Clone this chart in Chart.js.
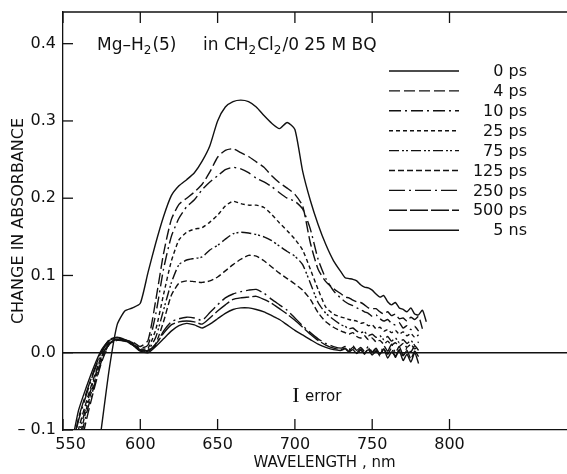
<!DOCTYPE html>
<html>
<head>
<meta charset="utf-8">
<script src="https://cdn.jsdelivr.net/npm/chart.js@4.4.1/dist/chart.umd.min.js"></script>
<style>
html,body{margin:0;padding:0;background:#ffffff;}
canvas{display:block;}
</style>
</head>
<body>
<canvas id="chart" width="567" height="474"></canvas>
<script>
// ---------------- DATA ----------------
const WAVELENGTHS = [555,560,565,570,575,580,585,590,595,600,605,610,615,620,625,630,635,640,645,650,655,660,665,670,675,680,685,690,695,700,705,710,715,720,725,730,732.5,735,737.5,740,742.5,745,747.5,750,752.5,755,757.5,760,762.5,765,767.5,770,772.5,775,777.5,780,782.5,785];

const ABS_0PS = [null,null,null,-0.17,-0.095,-0.02,0.036,0.054,0.058,0.064,0.104,0.142,0.176,0.203,0.216,0.224,0.233,0.248,0.268,0.300,0.318,0.325,0.327,0.325,0.318,0.307,0.297,0.290,0.298,0.289,0.235,0.197,0.166,0.140,0.119,0.104,0.097,0.096,0.095,0.093,0.088,0.085,0.084,0.081,0.076,0.072,0.074,0.066,0.062,0.065,0.058,0.056,0.053,0.058,0.050,0.049,0.055,0.040];
const ABS_4PS = [-0.20,-0.135,-0.088,-0.048,-0.012,0.011,0.018,0.016,0.014,0.008,0.016,0.068,0.128,0.172,0.192,0.200,0.208,0.218,0.234,0.253,0.262,0.264,0.259,0.254,0.247,0.240,0.229,0.220,0.213,0.205,0.190,0.142,0.108,0.092,0.083,0.076,0.072,0.071,0.068,0.066,0.065,0.062,0.058,0.057,0.057,0.053,0.050,0.053,0.048,0.050,0.044,0.045,0.041,0.046,0.043,0.047,0.031,null];
const ABS_10PS = [-0.19,-0.125,-0.080,-0.044,-0.010,0.012,0.017,0.017,0.013,0.006,0.010,0.050,0.108,0.150,0.174,0.189,0.198,0.211,0.221,0.229,0.237,0.240,0.238,0.233,0.226,0.221,0.215,0.207,0.200,0.196,0.186,0.160,0.121,0.096,0.080,0.070,0.066,0.063,0.061,0.058,0.056,0.053,0.051,0.047,0.049,0.044,0.041,0.043,0.038,0.036,0.039,0.032,0.035,0.030,0.034,0.028,null,null];
const ABS_25PS = [-0.18,-0.118,-0.074,-0.040,-0.008,0.012,0.016,0.016,0.012,0.005,0.006,0.030,0.075,0.118,0.146,0.156,0.160,0.162,0.169,0.178,0.190,0.196,0.193,0.191,0.191,0.188,0.179,0.168,0.158,0.147,0.133,0.108,0.082,0.059,0.050,0.046,0.045,0.043,0.042,0.041,0.038,0.039,0.035,0.036,0.031,0.033,0.028,0.030,0.026,0.029,0.024,0.027,0.022,0.025,0.020,0.023,null,null];
const ABS_75PS = [-0.17,-0.110,-0.069,-0.035,-0.005,0.013,0.016,0.015,0.011,0.004,0.004,0.020,0.055,0.090,0.114,0.120,0.122,0.124,0.133,0.139,0.147,0.154,0.156,0.155,0.153,0.150,0.145,0.138,0.131,0.125,0.114,0.090,0.065,0.051,0.043,0.036,0.034,0.031,0.032,0.028,0.026,0.027,0.022,0.024,0.020,0.022,0.017,0.021,0.015,0.019,0.013,0.017,0.012,0.016,0.010,0.014,null,null];
const ABS_125PS = [-0.16,-0.100,-0.064,-0.032,-0.004,0.014,0.017,0.015,0.010,0.003,0.002,0.012,0.040,0.074,0.090,0.093,0.092,0.091,0.093,0.098,0.106,0.114,0.121,0.126,0.125,0.119,0.111,0.103,0.096,0.089,0.081,0.069,0.052,0.040,0.033,0.028,0.026,0.024,0.026,0.021,0.019,0.022,0.017,0.019,0.014,0.016,0.011,0.015,0.010,0.013,0.008,0.012,0.007,0.011,0.005,0.009,null,null];
const ABS_250PS = [-0.13,-0.088,-0.055,-0.025,0.000,0.016,0.019,0.016,0.011,0.004,0.003,0.010,0.028,0.040,0.044,0.046,0.045,0.042,0.052,0.062,0.071,0.076,0.079,0.081,0.082,0.077,0.069,0.062,0.055,0.045,0.035,0.026,0.018,0.012,0.008,0.006,0.008,0.004,0.009,0.003,0.007,0.002,0.008,0.001,0.006,-0.002,0.009,0.002,0.011,0.000,0.008,-0.003,0.006,0.001,0.009,0.003,null,null];
const ABS_500PS = [-0.135,-0.085,-0.052,-0.023,0.002,0.017,0.020,0.017,0.012,0.003,0.002,0.011,0.025,0.036,0.040,0.041,0.040,0.037,0.045,0.054,0.062,0.069,0.071,0.072,0.073,0.069,0.064,0.057,0.050,0.042,0.033,0.024,0.016,0.010,0.006,0.004,0.006,0.002,0.007,0.000,0.005,-0.002,0.006,0.000,0.004,-0.004,0.005,-0.002,0.006,-0.006,0.004,-0.004,0.003,-0.008,0.002,-0.005,null,null];
const ABS_5NS = [-0.125,-0.075,-0.045,-0.018,0.004,0.016,0.018,0.016,0.010,0.002,0.000,0.008,0.018,0.028,0.035,0.038,0.036,0.032,0.037,0.044,0.051,0.056,0.058,0.058,0.056,0.053,0.048,0.043,0.036,0.029,0.023,0.017,0.011,0.007,0.004,0.003,0.005,0.001,0.004,-0.001,0.003,0.000,0.004,-0.003,0.002,-0.002,0.005,-0.007,0.001,-0.004,0.003,-0.010,-0.002,-0.012,0.000,-0.014,null,null];

const SERIES_LABELS = ['0 ps','4 ps','10 ps','25 ps','75 ps','125 ps','250 ps','500 ps','5 ns'];
const X_TICKS = [550,600,650,700,750,800];
const Y_TICKS = [-0.1,0.0,0.1,0.2,0.3,0.4];

// ---------------- STYLE ----------------
const SERIES_VALUES = [ABS_0PS,ABS_4PS,ABS_10PS,ABS_25PS,ABS_75PS,ABS_125PS,ABS_250PS,ABS_500PS,ABS_5NS];
const DASHES = [[],[11,4],[12,4,2,4],[4,3],[10,3,2,2,2,3],[6,3],[16,4,2,4],[18,3],[]];
const INK = '#111111';
const FONT = "'DejaVu Sans', sans-serif";

const datasets = SERIES_VALUES.map((vals, i) => ({
  label: SERIES_LABELS[i],
  data: WAVELENGTHS.map((w, j) => ({x: w, y: vals[j]})),
  borderColor: INK,
  backgroundColor: INK,
  borderWidth: 1.4,
  borderDash: DASHES[i],
  pointRadius: 0,
  tension: 0.2,
  fill: false,
  spanGaps: false
}));

function seg(ctx, x1, y1, x2, y2) {
  ctx.beginPath(); ctx.moveTo(x1, y1); ctx.lineTo(x2, y2); ctx.stroke();
}

function drawRich(ctx, parts, x, by) {
  let cx = x;
  parts.forEach(([t, sub]) => {
    ctx.font = (sub ? "12px " : "17px ") + FONT;
    ctx.fillText(t, cx, by + (sub ? 4 : 0));
    cx += ctx.measureText(t).width + (sub ? 1 : 0);
  });
}

const decor = {
  id: 'decor',
  afterDatasetsDraw(chart) {
    const {ctx, chartArea: a, scales: {x, y}} = chart;
    ctx.save();
    ctx.strokeStyle = INK; ctx.fillStyle = INK; ctx.lineWidth = 1.3; ctx.setLineDash([]);
    // top frame line
    seg(ctx, a.left, a.top, a.right, a.top);
    // zero line
    const y0 = y.getPixelForValue(0);
    seg(ctx, a.left, y0, a.right, y0);
    // inward ticks
    X_TICKS.forEach(v => {
      const px = x.getPixelForValue(v);
      seg(ctx, px, a.bottom, px, a.bottom - 11);
      seg(ctx, px, a.top, px, a.top + 11);
    });
    Y_TICKS.forEach(v => {
      const py = y.getPixelForValue(v);
      seg(ctx, a.left, py, a.left + 10, py);
    });
    // legend
    ctx.font = "16px " + FONT;
    ctx.textAlign = 'right'; ctx.textBaseline = 'middle';
    chart.data.datasets.forEach((ds, i) => {
      const ly = 71 + i * 19.9;
      ctx.lineWidth = 1.4;
      ctx.setLineDash(ds.borderDash || []);
      seg(ctx, 389, ly, 459, ly);
      ctx.setLineDash([]);
      ctx.fillText(ds.label, 527, ly + 1);
    });
    // annotation title
    ctx.textAlign = 'left'; ctx.textBaseline = 'alphabetic';
    drawRich(ctx, [['Mg\u2013H',0],['2',1],['(5)',0]], 97, 50);
    drawRich(ctx, [['in CH',0],['2',1],['Cl',0],['2',1],['/0 25 M BQ',0]], 203, 50);
    // error marker
    ctx.font = "22px 'Liberation Serif', serif";
    ctx.textAlign = 'center'; ctx.textBaseline = 'middle';
    ctx.fillText('I', 296, 396);
    ctx.font = "15px " + FONT;
    ctx.textAlign = 'left';
    ctx.fillText('error', 305, 397);
    ctx.restore();
  }
};

new Chart(document.getElementById('chart'), {
  type: 'line',
  data: {datasets},
  options: {
    responsive: false,
    animation: false,
    events: [],
    layout: {autoPadding: false, padding: {top: 12, left: 0, right: 0, bottom: 0}},
    plugins: {legend: {display: false}, tooltip: {enabled: false}},
    scales: {
      x: {
        type: 'linear', min: 550, max: 876,
        grid: {display: false, drawTicks: false},
        border: {display: true, color: INK, width: 1.3},
        ticks: {
          stepSize: 50, autoSkip: false, maxRotation: 0, padding: 5,
          color: INK, font: {family: FONT, size: 16},
          callback: v => X_TICKS.includes(v) ? (v === 550 ? '\u2007 ' + v : String(v)) : ''
        },
        title: {display: true, text: '\u00a0\u00a0\u00a0\u00a0WAVELENGTH , nm', color: INK,
                font: {family: FONT, size: 15}, padding: {top: 0, bottom: 2}},
        afterFit: s => { s.height = 44; s.paddingLeft = 0; s.paddingRight = 0; s.paddingTop = 0; s.paddingBottom = 0; }
      },
      y: {
        type: 'linear', min: -0.1, max: 0.441,
        grid: {display: false, drawTicks: false},
        border: {display: true, color: INK, width: 1.3},
        ticks: {
          stepSize: 0.1, padding: 7, color: INK, font: {family: FONT, size: 16},
          callback: v => {
            const r = Math.round(v * 10) / 10;
            if (Math.abs(v - r) > 1e-6 || !Y_TICKS.some(t => Math.abs(t - r) < 1e-6)) return '';
            return r < 0 ? '\u2013 ' + Math.abs(r).toFixed(1) : r.toFixed(1);
          }
        },
        title: {display: true, text: 'CHANGE IN ABSORBANCE', color: INK,
                font: {family: FONT, size: 16}, padding: {top: 9, bottom: 0}},
        afterFit: s => { s.width = 63; s.paddingLeft = 0; s.paddingRight = 0; s.paddingTop = 0; s.paddingBottom = 0; }
      }
    }
  },
  plugins: [decor]
});
</script>
</body>
</html>
